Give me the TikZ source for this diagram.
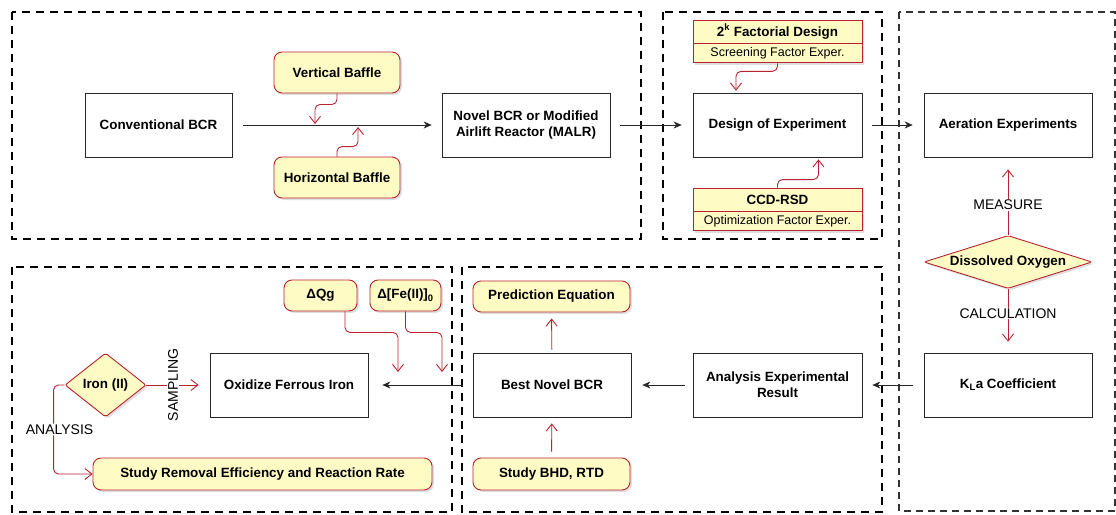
\documentclass[tikz,border=0pt]{standalone}
\usepackage{fontspec}
\setmainfont{Liberation Sans}
\usetikzlibrary{arrows.meta,positioning,shadows,shapes.geometric}
\definecolor{noteyellow}{HTML}{FFFBC4}
\definecolor{notered}{HTML}{B8232F}

\begin{document}
\begin{tikzpicture}[x=1pt,y=-1pt,
    box/.style={draw=black!85,line width=0.7pt,align=center,inner sep=0pt,minimum height=64pt,font=\fontsize{13.4}{16}\selectfont\bfseries},
    note/.style={draw=notered,fill=noteyellow,line width=0.9pt,rounded corners=8pt,inner sep=0pt,font=\fontsize{13.4}{16}\selectfont\bfseries,drop shadow={shadow xshift=2pt,shadow yshift=-2pt,opacity=0.25}},
    notetop/.style={draw=notered,fill=noteyellow,line width=0.9pt,inner sep=0pt,minimum width=169pt,minimum height=23pt,font=\fontsize{13.4}{16}\selectfont\bfseries,drop shadow={shadow xshift=2pt,shadow yshift=-2pt,opacity=0.25}},
    notebot/.style={draw=notered,fill=noteyellow,line width=0.9pt,inner sep=0pt,minimum width=169pt,minimum height=19pt,font=\fontsize{12.5}{15}\selectfont,drop shadow={shadow xshift=2pt,shadow yshift=-2pt,opacity=0.25}},
    choice/.style={diamond,draw=notered,fill=noteyellow,line width=0.9pt,inner sep=0pt,rounded corners=2pt,font=\fontsize{13.4}{16}\selectfont\bfseries,drop shadow={shadow xshift=2pt,shadow yshift=-2pt,opacity=0.25}},
    lbl/.style={fill=white,inner sep=1pt,font=\fontsize{14}{16}\selectfont},
    frame/.style={line width=2.4pt,dash pattern=on 8pt off 6pt},
    thinframe/.style={draw=black!80,line width=1.3pt,dash pattern=on 7pt off 5pt},
    flow/.style={draw=black!85,line width=0.7pt,-{Stealth[length=8pt,width=7pt,inset=2.5pt]}},
    redflow/.style={draw=notered,line width=0.9pt,-{Straight Barb[length=7pt,width=11pt]}}]
  \useasboundingbox (0,0) rectangle (1116,514);

  \draw[frame] (12,12) rectangle (641,239);
  \draw[frame] (663,12) rectangle (882,239);
  \draw[thinframe] (899,12) rectangle (1115,511);
  \draw[frame] (12,267) rectangle (452,512);
  \draw[frame] (462,267) rectangle (882,512);

  \node[box,minimum width=147pt] (conv) at (158.5,125) {Conventional BCR};
  \node[note,minimum width=126pt,minimum height=41pt] (vb) at (337,72.5) {Vertical Baffle};
  \node[note,minimum width=126pt,minimum height=41pt] (hb) at (337,177.5) {Horizontal Baffle};
  \node[box,minimum width=168pt] (novel) at (526,125) {Novel BCR or Modified\\Airlift Reactor (MALR)};
  \node[box,minimum width=169pt] (doe) at (777.5,125) {Design of Experiment};
  \node[notetop] (fac) at (777.5,31.5) {2\textsuperscript{k} Factorial Design};
  \node[notebot,below=0pt of fac] (facsub) {Screening Factor Exper.};
  \node[notetop] (ccd) at (777.5,199.5) {CCD-RSD};
  \node[notebot,below=0pt of ccd] (ccdsub) {Optimization Factor Exper.};
  \node[box,minimum width=168pt] (aer) at (1008,125) {Aeration Experiments};
  \node[choice,aspect=3.2,minimum width=168pt,minimum height=53pt] (dox) at (1008,262) {Dissolved Oxygen};
  \node[box,minimum width=168pt] (kla) at (1008,385) {K\textsubscript{L}a Coefficient};
  \node[box,minimum width=169pt] (ana) at (777.5,385) {Analysis Experimental\\Result};
  \node[box,minimum width=158pt] (best) at (552,385) {Best Novel BCR};
  \node[note,minimum width=157pt,minimum height=31pt] (pred) at (551.5,296.5) {Prediction Equation};
  \node[note,minimum width=157pt,minimum height=32pt] (bhd) at (551.5,474) {Study BHD, RTD};
  \node[box,minimum width=158pt] (ox) at (289,385) {Oxidize Ferrous Iron};
  \node[note,minimum width=73pt,minimum height=31pt] (dq) at (320.5,295.5) {ΔQg};
  \node[note,minimum width=71pt,minimum height=31pt] (dfe) at (405.5,295.5) {Δ[Fe(II)]\textsubscript{0}};
  \node[choice,minimum width=81pt,minimum height=64pt] (iron) at (105.5,385) {Iron (II)};
  \node[note,minimum width=339pt,minimum height=32pt] (rem) at (262.5,474) {Study Removal Efficiency and Reaction Rate};

  \coordinate (vbin) at (315,124);
  \coordinate (hbin) at (358,127);
  \coordinate (dqin) at (398,372);
  \coordinate (dfein) at (442,372);

  \draw[flow,shorten <=11pt,shorten >=10pt] (conv) -- (novel);
  \draw[flow,shorten <=10pt,shorten >=11pt] (novel) -- (doe);
  \draw[flow,shorten <=10pt,shorten >=11pt] (doe) -- (aer);
  \draw[flow,shorten <=11pt,shorten >=10pt] (kla) -- (ana);
  \draw[flow,shorten <=8pt,shorten >=11pt] (ana) -- (best);
  \draw[flow,shorten <=10pt,shorten >=14pt] (best) -- (ox);

  \draw[redflow,rounded corners=5pt] (vb.south) -- ++(0,11) -| (vbin);
  \draw[redflow,rounded corners=5pt] (hb.north) -- ++(0,-10) -| (hbin);
  \draw[redflow,rounded corners=5pt,shorten >=2pt] (facsub.south) -- ++(0,8) -| ([xshift=-41.5pt]doe.north);
  \draw[redflow,rounded corners=5pt,shorten >=2pt] (ccd.north) -- ++(0,-8) -| ([xshift=41pt]doe.south);
  \draw[redflow,shorten >=12pt] (dox.north) -- node[lbl,pos=0.39] {MEASURE} (aer.south);
  \draw[redflow,shorten >=11pt] (dox.south) -- node[lbl,pos=0.385] {CALCULATION} (kla.north);
  \draw[redflow,shorten <=3pt,shorten >=6pt] (best) -- (pred);
  \draw[redflow,shorten <=6pt,shorten >=6pt] (bhd) -- (best);
  \draw[redflow,rounded corners=5pt] ([xshift=24.5pt]dq.south) -- ++(0,21) -| (dqin);
  \draw[redflow,rounded corners=5pt] (dfe.south) -- ++(0,21) -| (dfein);
  \draw[redflow,shorten >=11pt] (iron.east) -- node[lbl,rotate=90,pos=0.42] {SAMPLING} (ox.west);
  \draw[redflow,rounded corners=5pt] (iron.west) -- ++(-11,0) |- node[lbl,pos=0.25,xshift=6pt] {ANALYSIS} (rem.west);
\end{tikzpicture}
\end{document}
